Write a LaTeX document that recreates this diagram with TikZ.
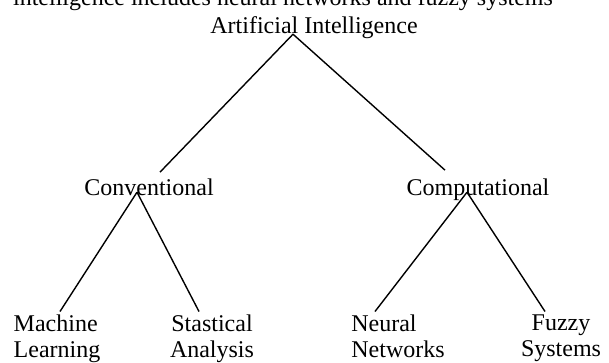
\documentclass[tikz,border=0pt]{standalone}
\usepackage{fontspec}
\setmainfont{Liberation Serif}
\usetikzlibrary{
  positioning,
  calc,         % Shifted anchors
}
\tikzset{
  my label/.style={
    inner sep=0pt,
    font=\fontsize{24}{26}\selectfont
  },
  my head/.style={
    my label,
    text depth=0pt,
    anchor=base
  },
  my leaf/.style={
    my label,
    anchor=north
  },
  my branch/.style={
    line width=1.4pt
  }
}

\begin{document}
\begin{tikzpicture}[x=1pt,y=-1pt]
\useasboundingbox (0,0) rectangle (609,362);
% cut off line above the tree
\node[my head] (cap)  at (283,5)   {intelligence includes neural networks and fuzzy systems};
\node[my head] (ai)   at (314,33)  {Artificial Intelligence};
\node[my head] (conv) at (149,195) {Conventional};
\node[my head] (comp) at (478,195) {Computational};
\node[my leaf,align=left]   (ml) at (57,314.5)  {Machine\\Learning};
\node[my leaf,align=center] (sa) at (212,314.5) {Stastical\\Analysis};
\node[my leaf,align=left]   (nn) at (398,314.5) {Neural\\Networks};
\node[my leaf,align=center] (fs) at (561,314.5) {Fuzzy\\Systems};
\path[my branch]
  ([shift={(11,-6)}]conv.north) edge ([shift={(-21,1)}]ai.south)
  ([shift={(-21,1)}]ai.south)   edge ([shift={(-33,-8)}]comp.north)
  ([shift={(-12,-3)}]conv.south) edge ([shift={(3,-3)}]ml.north)
  ([shift={(-12,-3)}]conv.south) edge ([shift={(-13,-3)}]sa.north)
  ([shift={(-11,-3)}]comp.south) edge ([shift={(-23,-3)}]nn.north)
  ([shift={(-11,-3)}]comp.south) edge ([shift={(-16,-3)}]fs.north);
\end{tikzpicture}
\end{document}
